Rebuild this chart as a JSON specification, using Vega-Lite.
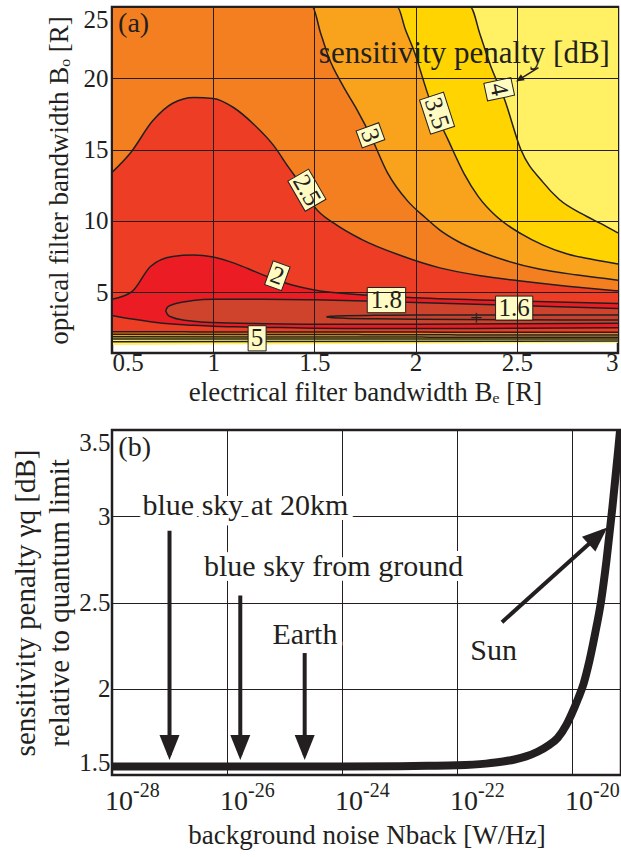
{
  "$schema": "https://vega.github.io/schema/vega-lite/v6.json",
  "background": "white",
  "padding": {"left": 10, "top": 2, "right": 0, "bottom": 0},
  "spacing": 21,
  "config": {
    "font": "Liberation Serif",
    "view": {"stroke": "#231F20", "strokeWidth": 2.5},
    "axis": {
      "domain": false, "ticks": false, "tickSize": 0,
      "labelFont": "Liberation Serif", "titleFont": "Liberation Serif",
      "labelColor": "#231F20", "titleColor": "#231F20",
      "labelFontSize": 25, "titleFontSize": 27, "titleFontWeight": "normal",
      "gridColor": "#231F20", "gridOpacity": 1, "gridWidth": 1,
      "labelFlush": true, "labelOverlap": false, "format": "~g"
    },
    "text": {"font": "Liberation Serif", "color": "#231F20"}
  },
  "datasets": {
    "bands": [
      {"b": "vmax", "x": 0.5, "lo": 1.29, "hi": 25}, {"b": "vmax", "x": 3, "lo": 1.45, "hi": 25},
      {"b": "v5", "x": 0.5, "lo": 1.52, "hi": 25}, {"b": "v5", "x": 3, "lo": 1.57, "hi": 25},
      {"b": "v4", "x": 0.5, "lo": 1.71, "hi": 25}, {"b": "v4", "x": 2.27, "lo": 1.71, "hi": 25},
      {"b": "v4", "x": 2.32, "lo": 1.71, "hi": 23.0}, {"b": "v4", "x": 2.37, "lo": 1.71, "hi": 20.9},
      {"b": "v4", "x": 2.44, "lo": 1.71, "hi": 18.5}, {"b": "v4", "x": 2.52, "lo": 1.71, "hi": 15.0},
      {"b": "v4", "x": 2.63, "lo": 1.71, "hi": 12.7}, {"b": "v4", "x": 2.71, "lo": 1.71, "hi": 11.5},
      {"b": "v4", "x": 2.82, "lo": 1.71, "hi": 10.5}, {"b": "v4", "x": 2.93, "lo": 1.71, "hi": 9.7},
      {"b": "v4", "x": 3, "lo": 1.71, "hi": 9.15},
      {"b": "v3.5", "x": 0.5, "lo": 1.87, "hi": 25}, {"b": "v3.5", "x": 1.91, "lo": 1.85, "hi": 25},
      {"b": "v3.5", "x": 1.95, "lo": 1.85, "hi": 23.4}, {"b": "v3.5", "x": 1.99, "lo": 1.85, "hi": 22.0},
      {"b": "v3.5", "x": 2.07, "lo": 1.84, "hi": 18.5}, {"b": "v3.5", "x": 2.16, "lo": 1.84, "hi": 15.7},
      {"b": "v3.5", "x": 2.24, "lo": 1.84, "hi": 13.3}, {"b": "v3.5", "x": 2.31, "lo": 1.84, "hi": 11.7},
      {"b": "v3.5", "x": 2.4, "lo": 1.84, "hi": 10.3}, {"b": "v3.5", "x": 2.52, "lo": 1.84, "hi": 9.1},
      {"b": "v3.5", "x": 2.63, "lo": 1.84, "hi": 8.3}, {"b": "v3.5", "x": 2.75, "lo": 1.83, "hi": 7.67},
      {"b": "v3.5", "x": 2.87, "lo": 1.83, "hi": 7.3}, {"b": "v3.5", "x": 3, "lo": 1.83, "hi": 6.97},
      {"b": "v3", "x": 0.5, "lo": 2.04, "hi": 25}, {"b": "v3", "x": 1.49, "lo": 2.02, "hi": 25},
      {"b": "v3", "x": 1.53, "lo": 2.02, "hi": 23.2}, {"b": "v3", "x": 1.57, "lo": 2.02, "hi": 21.5},
      {"b": "v3", "x": 1.64, "lo": 2.02, "hi": 19.5}, {"b": "v3", "x": 1.71, "lo": 2.02, "hi": 17.8},
      {"b": "v3", "x": 1.78, "lo": 2.01, "hi": 15.9}, {"b": "v3", "x": 1.86, "lo": 2.01, "hi": 13.4},
      {"b": "v3", "x": 1.96, "lo": 2.01, "hi": 11.4}, {"b": "v3", "x": 2.05, "lo": 2.01, "hi": 10.2},
      {"b": "v3", "x": 2.12, "lo": 2.01, "hi": 9.35}, {"b": "v3", "x": 2.21, "lo": 2.0, "hi": 8.55},
      {"b": "v3", "x": 2.31, "lo": 2.0, "hi": 7.9}, {"b": "v3", "x": 2.45, "lo": 2.0, "hi": 7.2},
      {"b": "v3", "x": 2.61, "lo": 2.0, "hi": 6.62}, {"b": "v3", "x": 2.8, "lo": 1.99, "hi": 6.2},
      {"b": "v3", "x": 3, "lo": 1.99, "hi": 5.84},
      {"b": "v2.5", "x": 0.5, "lo": 2.22, "hi": 13.4}, {"b": "v2.5", "x": 0.593, "lo": 2.22, "hi": 14.8},
      {"b": "v2.5", "x": 0.7, "lo": 2.22, "hi": 17.0}, {"b": "v2.5", "x": 0.8, "lo": 2.22, "hi": 18.25},
      {"b": "v2.5", "x": 0.905, "lo": 2.21, "hi": 18.65}, {"b": "v2.5", "x": 1.0, "lo": 2.21, "hi": 18.58},
      {"b": "v2.5", "x": 1.1, "lo": 2.21, "hi": 17.95}, {"b": "v2.5", "x": 1.2, "lo": 2.21, "hi": 16.78},
      {"b": "v2.5", "x": 1.3, "lo": 2.21, "hi": 15.26}, {"b": "v2.5", "x": 1.37, "lo": 2.21, "hi": 13.8},
      {"b": "v2.5", "x": 1.45, "lo": 2.2, "hi": 12.2}, {"b": "v2.5", "x": 1.5, "lo": 2.2, "hi": 11.0},
      {"b": "v2.5", "x": 1.6, "lo": 2.2, "hi": 9.8}, {"b": "v2.5", "x": 1.73, "lo": 2.2, "hi": 8.72},
      {"b": "v2.5", "x": 1.93, "lo": 2.2, "hi": 7.55}, {"b": "v2.5", "x": 2.12, "lo": 2.19, "hi": 6.7},
      {"b": "v2.5", "x": 2.32, "lo": 2.19, "hi": 6.15}, {"b": "v2.5", "x": 2.51, "lo": 2.19, "hi": 5.8},
      {"b": "v2.5", "x": 2.75, "lo": 2.18, "hi": 5.42}, {"b": "v2.5", "x": 3, "lo": 2.18, "hi": 5.09},
      {"b": "v2", "x": 0.5, "lo": 3.36, "hi": 4.5}, {"b": "v2", "x": 0.6, "lo": 3.11, "hi": 5.05},
      {"b": "v2", "x": 0.69, "lo": 2.93, "hi": 6.8}, {"b": "v2", "x": 0.8, "lo": 2.76, "hi": 7.5},
      {"b": "v2", "x": 0.9, "lo": 2.67, "hi": 7.6}, {"b": "v2", "x": 1.0, "lo": 2.6, "hi": 7.47},
      {"b": "v2", "x": 1.11, "lo": 2.57, "hi": 7.0}, {"b": "v2", "x": 1.21, "lo": 2.54, "hi": 6.42},
      {"b": "v2", "x": 1.3, "lo": 2.52, "hi": 5.9}, {"b": "v2", "x": 1.39, "lo": 2.5, "hi": 5.5},
      {"b": "v2", "x": 1.5, "lo": 2.47, "hi": 5.15}, {"b": "v2", "x": 1.75, "lo": 2.45, "hi": 4.8},
      {"b": "v2", "x": 2.0, "lo": 2.44, "hi": 4.6}, {"b": "v2", "x": 2.5, "lo": 2.47, "hi": 4.38},
      {"b": "v2", "x": 3, "lo": 2.5, "hi": 4.21},
      {"b": "v1.8", "x": 0.765, "lo": 3.69, "hi": 3.69}, {"b": "v1.8", "x": 0.775, "lo": 3.42, "hi": 3.95},
      {"b": "v1.8", "x": 0.8, "lo": 3.22, "hi": 4.13}, {"b": "v1.8", "x": 0.85, "lo": 3.05, "hi": 4.3},
      {"b": "v1.8", "x": 0.9, "lo": 2.96, "hi": 4.42}, {"b": "v1.8", "x": 1.0, "lo": 2.87, "hi": 4.5},
      {"b": "v1.8", "x": 1.25, "lo": 2.79, "hi": 4.5}, {"b": "v1.8", "x": 1.5, "lo": 2.75, "hi": 4.46},
      {"b": "v1.8", "x": 1.75, "lo": 2.74, "hi": 4.38}, {"b": "v1.8", "x": 2.0, "lo": 2.75, "hi": 4.28},
      {"b": "v1.8", "x": 2.5, "lo": 2.78, "hi": 4.07}, {"b": "v1.8", "x": 3, "lo": 2.81, "hi": 3.86},
      {"b": "v1.6", "x": 1.56, "lo": 3.27, "hi": 3.27}, {"b": "v1.6", "x": 1.58, "lo": 3.22, "hi": 3.31},
      {"b": "v1.6", "x": 1.65, "lo": 3.17, "hi": 3.35}, {"b": "v1.6", "x": 1.8, "lo": 3.13, "hi": 3.37},
      {"b": "v1.6", "x": 2.0, "lo": 3.1, "hi": 3.39}, {"b": "v1.6", "x": 2.5, "lo": 3.06, "hi": 3.4},
      {"b": "v1.6", "x": 3, "lo": 3.04, "hi": 3.4}
    ],
    "labels_a": [
      {"lab": "2.5", "level": 2.5, "x": 1.463, "y": 12.15},
      {"lab": "3", "level": 3, "x": 1.777, "y": 16.0},
      {"lab": "3.5", "level": 3.5, "x": 2.106, "y": 17.55},
      {"lab": "4", "level": 4, "x": 2.413, "y": 19.23},
      {"lab": "2", "level": 2, "x": 1.317, "y": 6.15},
      {"lab": "1.8", "level": 1.8, "x": 1.856, "y": 4.44},
      {"lab": "1.6", "level": 1.6, "x": 2.487, "y": 3.88},
      {"lab": "5", "level": 5, "x": 1.217, "y": 1.76}
    ],
    "curve": [
      {"n": 1e-28, "p": 1.55}, {"n": 1e-27, "p": 1.55}, {"n": 1e-26, "p": 1.55}, {"n": 1e-25, "p": 1.55},
      {"n": 1e-24, "p": 1.55}, {"n": 1e-23, "p": 1.551}, {"n": 3.162e-23, "p": 1.553}, {"n": 1e-22, "p": 1.556},
      {"n": 3.162e-22, "p": 1.566}, {"n": 6.31e-22, "p": 1.578}, {"n": 1e-21, "p": 1.59}, {"n": 1.585e-21, "p": 1.608},
      {"n": 2.512e-21, "p": 1.635}, {"n": 3.981e-21, "p": 1.674}, {"n": 5.623e-21, "p": 1.715}, {"n": 7.943e-21, "p": 1.79},
      {"n": 1e-20, "p": 1.86}, {"n": 1.259e-20, "p": 1.94}, {"n": 1.585e-20, "p": 2.03}, {"n": 1.995e-20, "p": 2.16},
      {"n": 2.512e-20, "p": 2.32}, {"n": 3.162e-20, "p": 2.5}, {"n": 3.981e-20, "p": 2.75}, {"n": 5.012e-20, "p": 3.05},
      {"n": 6.31e-20, "p": 3.38}, {"n": 6.918e-20, "p": 3.52}
    ],
    "xticks_b": [
      {"n": 1e-28, "e": "-28"}, {"n": 1e-26, "e": "-26"}, {"n": 1e-24, "e": "-24"},
      {"n": 1e-22, "e": "-22"}, {"n": 1e-20, "e": "-20"}
    ],
    "notes_b": [
      {"t": "blue sky at 20km", "n": 3.39e-28, "p": 3.009},
      {"t": "blue sky from ground", "n": 3.98e-27, "p": 2.656},
      {"t": "Earth", "n": 6.17e-26, "p": 2.261},
      {"t": "Sun", "n": 1.7e-22, "p": 2.169}
    ],
    "arrows_b": [
      {"n": 1e-27, "top": 2.916, "end": 1.616},
      {"n": 1.7e-26, "top": 2.54, "end": 1.616},
      {"n": 2.24e-25, "top": 2.207, "end": 1.616}
    ],
    "sun_arrow": [
      {"n": 6.03e-22, "p": 2.386, "n2": 3.52e-20, "p2": 2.916}
    ]
  },
  "vconcat": [
    {
      "width": 506,
      "height": 346,
      "layer": [
        {
          "data": {"name": "bands"},
          "encoding": {
            "x": {"field": "x", "type": "quantitative",
                  "scale": {"domain": [0.5, 3], "nice": false, "zero": false},
                  "axis": {"values": [0.5, 1, 1.5, 2, 2.5, 3], "title": "electrical filter bandwidth Bₑ [R]",
                           "labelPadding": -3, "titlePadding": 4, "grid": true, "zindex": 1}},
            "y": {"field": "hi", "type": "quantitative",
                  "scale": {"domain": [0.73, 25], "nice": false, "zero": false},
                  "axis": {"values": [5, 10, 15, 20, 25], "title": "optical filter bandwidth Bₒ [R]",
                           "labelPadding": 4, "titlePadding": 10, "grid": true, "zindex": 1}},
            "y2": {"field": "lo"}
          },
          "layer": [
            {"transform": [{"filter": "datum.b === 'vmax'"}], "mark": {"type": "area", "color": "#FFF163", "opacity": 1, "interpolate": "monotone"}},
            {"transform": [{"filter": "datum.b === 'v5'"}], "mark": {"type": "area", "color": "#FFF163", "opacity": 1, "interpolate": "monotone"}},
            {"transform": [{"filter": "datum.b === 'v4'"}], "mark": {"type": "area", "color": "#FFD400", "opacity": 1, "interpolate": "monotone"}},
            {"transform": [{"filter": "datum.b === 'v3.5'"}], "mark": {"type": "area", "color": "#F8A31B", "opacity": 1, "interpolate": "monotone"}},
            {"transform": [{"filter": "datum.b === 'v3'"}], "mark": {"type": "area", "color": "#F47F20", "opacity": 1, "interpolate": "monotone"}},
            {"transform": [{"filter": "datum.b === 'v2.5'"}], "mark": {"type": "area", "color": "#EE3D25", "opacity": 1, "interpolate": "monotone"}},
            {"transform": [{"filter": "datum.b === 'v2'"}], "mark": {"type": "area", "color": "#EC1C24", "opacity": 1, "interpolate": "monotone"}},
            {"transform": [{"filter": "datum.b === 'v1.8'"}], "mark": {"type": "area", "color": "#CF432D", "opacity": 1, "interpolate": "monotone"}},
            {"transform": [{"filter": "datum.b === 'v1.6'"}], "mark": {"type": "area", "color": "#C9412C", "opacity": 1, "interpolate": "monotone"}}
          ]
        },
        {
          "data": {"name": "bands"},
          "transform": [
            {"filter": "datum.b !== 'vmax'"},
            {"fold": ["lo", "hi"], "as": ["side", "yv"]}
          ],
          "mark": {"type": "line", "stroke": "#231F20", "strokeWidth": 1.5, "interpolate": "monotone"},
          "encoding": {
            "x": {"field": "x", "type": "quantitative"},
            "y": {"field": "yv", "type": "quantitative"},
            "detail": [{"field": "b"}, {"field": "side"}]
          }
        },
        {
          "data": {"name": "labels_a"},
          "mark": {"type": "point", "filled": true, "fill": "#FFFBC3", "stroke": "#231F20", "strokeWidth": 1, "opacity": 1, "size": 576},
          "encoding": {
            "x": {"field": "x", "type": "quantitative"},
            "y": {"field": "y", "type": "quantitative"},
            "shape": {"field": "lab", "type": "nominal", "legend": null,
                      "scale": {"domain": ["1.6", "1.8", "2", "2.5", "3", "3.5", "4", "5"],
                                "range": ["M-1.55,-1H1.55V1H-1.55Z", "M-1.6,-1.05H1.6V1.05H-1.6Z", "M-0.75,-1.05H0.75V1.05H-0.75Z", "M-1.45,-1H1.45V1H-1.45Z", "M-0.75,-1H0.75V1H-0.75Z", "M-1.5,-1.05H1.5V1.05H-1.5Z", "M-0.75,-1.15H0.75V1.15H-0.75Z", "M-0.75,-1.05H0.75V1.05H-0.75Z"]}},
            "angle": {"field": "level", "type": "quantitative", "legend": null,
                      "scale": {"domain": [1.6, 1.8, 2, 2.5, 3, 3.5, 4, 5], "range": [0, 0, 20, 60, 70, 72, 78, 0], "nice": false, "zero": false}}
          }
        },
        {
          "data": {"name": "labels_a"},
          "mark": {"type": "text", "fontSize": 25, "align": "center", "baseline": "middle"},
          "encoding": {
            "x": {"field": "x", "type": "quantitative"},
            "y": {"field": "y", "type": "quantitative"},
            "text": {"field": "lab"},
            "angle": {"field": "level", "type": "quantitative", "legend": null,
                      "scale": {"domain": [1.6, 1.8, 2, 2.5, 3, 3.5, 4, 5], "range": [0, 0, 20, 60, 70, 72, 78, 0], "nice": false, "zero": false}}
          }
        },
        {
          "data": {"values": [{"x": 2.3, "y": 3.18, "t": "+"}]},
          "mark": {"type": "text", "fontSize": 22, "align": "center", "baseline": "middle"},
          "encoding": {
            "x": {"field": "x", "type": "quantitative"},
            "y": {"field": "y", "type": "quantitative"},
            "text": {"field": "t"}
          }
        },
        {
          "data": {"values": [{"x": 0.53, "y": 23.8, "t": "(a)"}]},
          "mark": {"type": "text", "fontSize": 28, "align": "left", "baseline": "middle"},
          "encoding": {
            "x": {"field": "x", "type": "quantitative"},
            "y": {"field": "y", "type": "quantitative"},
            "text": {"field": "t"}
          }
        },
        {
          "data": {"values": [{"x": 2.96, "y": 21.1, "t": "sensitivity penalty [dB]"}]},
          "mark": {"type": "text", "fontSize": 31, "align": "right", "baseline": "alphabetic"},
          "encoding": {
            "x": {"field": "x", "type": "quantitative"},
            "y": {"field": "y", "type": "quantitative"},
            "text": {"field": "t"}
          }
        },
        {
          "data": {"values": [{"x": 2.607, "y": 20.75, "x2": 2.503, "y2": 19.83}]},
          "mark": {"type": "rule", "stroke": "#231F20", "strokeWidth": 1.5},
          "encoding": {
            "x": {"field": "x", "type": "quantitative"},
            "y": {"field": "y", "type": "quantitative"},
            "x2": {"field": "x2"},
            "y2": {"field": "y2"}
          }
        },
        {
          "data": {"values": [{"x": 2.503, "y": 19.83}]},
          "mark": {"type": "point", "shape": "M0.4,0L-1.6,-0.9L-1.6,0.9Z", "size": 64, "angle": 148, "filled": true, "fill": "#231F20", "strokeWidth": 0, "opacity": 1},
          "encoding": {
            "x": {"field": "x", "type": "quantitative"},
            "y": {"field": "y", "type": "quantitative"}
          }
        }
      ]
    },
    {
      "width": 509,
      "height": 345,
      "layer": [
        {
          "data": {"name": "curve"},
          "mark": {"type": "line", "stroke": "#231F20", "strokeWidth": 8, "clip": true, "interpolate": "monotone"},
          "encoding": {
            "x": {"field": "n", "type": "quantitative",
                  "scale": {"type": "log", "domain": [1e-28, 7.08e-20], "nice": false},
                  "axis": {"values": [1e-28, 1e-26, 1e-24, 1e-22, 1e-20], "labels": false,
                           "title": "background noise Nback [W/Hz]", "titlePadding": 47, "grid": true}},
            "y": {"field": "p", "type": "quantitative",
                  "scale": {"domain": [1.5, 3.5], "nice": false, "zero": false},
                  "axis": {"values": [1.5, 2, 2.5, 3, 3.5],
                           "title": ["sensitivity penalty γq [dB]", "relative to quantum limit"],
                           "titleFontSize": 29, "titleLineHeight": 34, "labelPadding": 2, "titlePadding": 4, "grid": true}}
          }
        },
        {
          "data": {"name": "xticks_b"},
          "mark": {"type": "text", "text": "10", "fontSize": 28, "align": "left", "baseline": "alphabetic", "dx": -7, "dy": 35},
          "encoding": {
            "x": {"field": "n", "type": "quantitative"},
            "y": {"datum": 1.5, "type": "quantitative"}
          }
        },
        {
          "data": {"name": "xticks_b"},
          "mark": {"type": "text", "fontSize": 20, "align": "left", "baseline": "alphabetic", "dx": 21, "dy": 22},
          "encoding": {
            "x": {"field": "n", "type": "quantitative"},
            "y": {"datum": 1.5, "type": "quantitative"},
            "text": {"field": "e"}
          }
        },
        {
          "data": {"name": "notes_b"},
          "mark": {"type": "text", "fontSize": 30, "align": "left", "baseline": "alphabetic", "stroke": "white", "strokeWidth": 10, "strokeJoin": "round", "fill": "white"},
          "encoding": {
            "x": {"field": "n", "type": "quantitative"},
            "y": {"field": "p", "type": "quantitative"},
            "text": {"field": "t"}
          }
        },
        {
          "data": {"name": "notes_b"},
          "mark": {"type": "text", "fontSize": 30, "align": "left", "baseline": "alphabetic"},
          "encoding": {
            "x": {"field": "n", "type": "quantitative"},
            "y": {"field": "p", "type": "quantitative"},
            "text": {"field": "t"}
          }
        },
        {
          "data": {"name": "arrows_b"},
          "mark": {"type": "rule", "stroke": "#231F20", "strokeWidth": 4},
          "encoding": {
            "x": {"field": "n", "type": "quantitative"},
            "y": {"field": "top", "type": "quantitative"},
            "y2": {"field": "end"}
          }
        },
        {
          "data": {"name": "arrows_b"},
          "mark": {"type": "point", "shape": "M0.4,0L-1.6,-0.8L-1.6,0.8Z", "size": 625, "angle": 90, "filled": true, "fill": "#231F20", "strokeWidth": 0, "opacity": 1},
          "encoding": {
            "x": {"field": "n", "type": "quantitative"},
            "y": {"field": "end", "type": "quantitative"}
          }
        },
        {
          "data": {"name": "sun_arrow"},
          "mark": {"type": "rule", "stroke": "#231F20", "strokeWidth": 4},
          "encoding": {
            "x": {"field": "n", "type": "quantitative"},
            "y": {"field": "p", "type": "quantitative"},
            "x2": {"field": "n2"},
            "y2": {"field": "p2"}
          }
        },
        {
          "data": {"name": "sun_arrow"},
          "mark": {"type": "point", "shape": "M0.4,0L-1.6,-0.8L-1.6,0.8Z", "size": 625, "angle": -42, "filled": true, "fill": "#231F20", "strokeWidth": 0, "opacity": 1},
          "encoding": {
            "x": {"field": "n2", "type": "quantitative"},
            "y": {"field": "p2", "type": "quantitative"}
          }
        },
        {
          "data": {"values": [{"n": 1.29e-28, "p": 3.396, "t": "(b)"}]},
          "mark": {"type": "text", "fontSize": 28, "align": "left", "baseline": "middle"},
          "encoding": {
            "x": {"field": "n", "type": "quantitative"},
            "y": {"field": "p", "type": "quantitative"},
            "text": {"field": "t"}
          }
        }
      ]
    }
  ]
}
